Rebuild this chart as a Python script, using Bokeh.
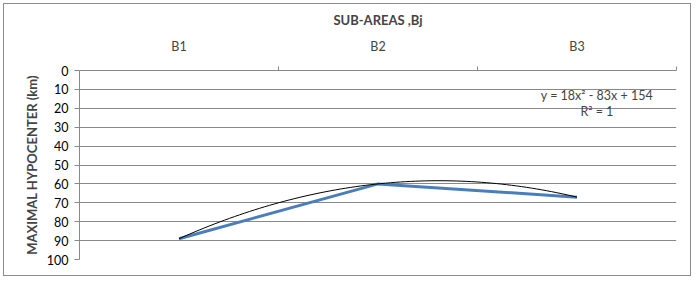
import numpy as np
from bokeh.plotting import figure
from bokeh.models import Range1d, LinearAxis, FixedTicker, Label
from bokeh.embed import file_html
from bokeh.resources import INLINE

categories = ["B1", "B2", "B3"]
hypocenter = [89, 60, 67]
y_ticks = [0, 10, 20, 30, 40, 50, 60, 70, 80, 90, 100]
equation_text = "y = 18x² - 83x + 154"
r2_text = "R² = 1"

xs = list(range(1, len(categories) + 1))
coef = np.polyfit(xs, hypocenter, 2)
tx = np.linspace(1, 3, 80)
ty = np.polyval(coef, tx)

FONT = "Lato"
GRAY = "#898989"

p = figure(width=688, height=273, output_backend="svg", toolbar_location=None,
           x_range=Range1d(0.5, 3.5), y_range=Range1d(100, 0),
           x_axis_location=None, y_axis_location=None,
           min_border_left=75, min_border_top=66, min_border_right=16, min_border_bottom=18,
           outline_line_color=None,
           styles={"border": "1px solid #8c8c8c", "margin-left": "3px", "margin-top": "3px"})

p.xgrid.visible = False
p.ygrid.grid_line_color = GRAY
p.ygrid.ticker = FixedTicker(ticks=y_ticks)

yax = LinearAxis(ticker=FixedTicker(ticks=y_ticks, minor_ticks=[]),
                 axis_label="MAXIMAL HYPOCENTER (km)")
yax.axis_line_color = GRAY
yax.major_tick_line_color = GRAY
yax.major_tick_in = 0
yax.major_tick_out = 5
yax.minor_tick_line_color = None
yax.major_label_text_font = FONT
yax.major_label_text_font_size = "12.5px"
yax.major_label_text_color = "#000000"
yax.major_label_standoff = 6
yax.axis_label_text_font = FONT
yax.axis_label_text_font_size = "13px"
yax.axis_label_text_font_style = "bold"
yax.axis_label_standoff = 4
p.add_layout(yax, "left")

xax = LinearAxis(ticker=FixedTicker(ticks=xs, minor_ticks=[1.5, 2.5, 3.5]),
                 axis_label="SUB-AREAS ,Bj")
xax.major_label_overrides = {i: c for i, c in zip(xs, categories)}
xax.axis_line_color = GRAY
xax.major_tick_line_color = None
xax.minor_tick_line_color = GRAY
xax.minor_tick_in = 0
xax.minor_tick_out = 4
xax.major_label_text_font = FONT
xax.major_label_text_font_size = "12.5px"
xax.major_label_standoff = 11
xax.axis_label_text_font = FONT
xax.axis_label_text_font_size = "13px"
xax.axis_label_text_font_style = "bold"
xax.axis_label_standoff = 8
p.add_layout(xax, "above")

p.line(xs, hypocenter, line_color="#4A7EBB", line_width=3)
p.line(tx, ty, line_color="#000000", line_width=1)

p.add_layout(Label(x=3.1, y=13.2, text=equation_text, text_align="center",
                   text_baseline="middle", text_font=FONT, text_font_size="12.5px"))
p.add_layout(Label(x=3.1, y=21.7, text=r2_text, text_align="center",
                   text_baseline="middle", text_font=FONT, text_font_size="12.5px"))

open("out.html", "w").write(file_html(p, INLINE))
